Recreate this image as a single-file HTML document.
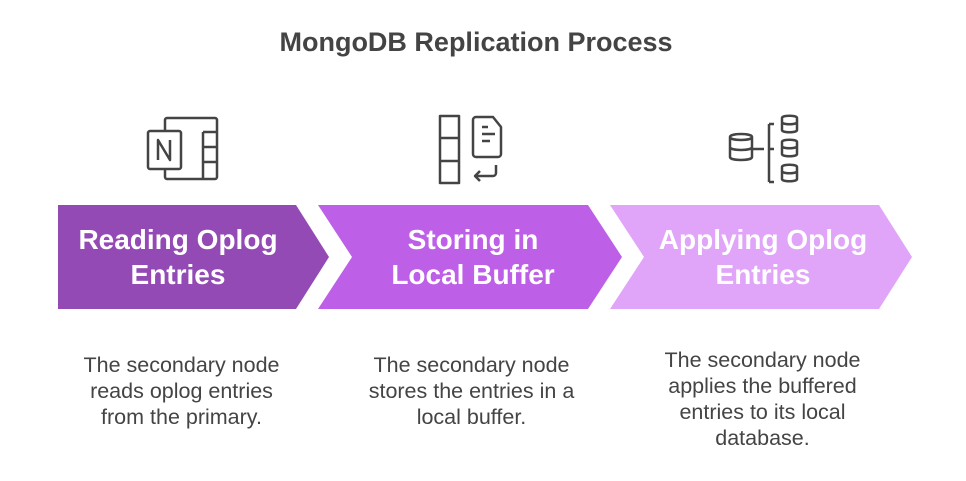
<!DOCTYPE html>
<html><head><style>
body{margin:0;width:966px;height:481px;background:#fff;font-family:"Liberation Sans",sans-serif;position:relative;overflow:hidden}
.t{position:absolute;left:0;width:952px;top:27px;text-align:center;font-weight:bold;font-size:27px;color:#444}
.lab{position:absolute;text-align:center;color:#fff;font-weight:bold;font-size:28px;line-height:35px;width:280px}
.d{position:absolute;text-align:center;color:#444;font-size:21.5px;line-height:26px;width:235px}
</style></head><body>
<div class="t">MongoDB Replication Process</div>
<svg width="966" height="481" style="position:absolute;left:0;top:0">
<polygon points="58,205 296,205 329,257 296,309 58,309" fill="#944AB5"/>
<polygon points="318,205 588,205 622,257 588,309 318,309 352,257" fill="#BE5FE8"/>
<polygon points="610,205 879,205 912,257 879,309 610,309 644,257" fill="#E0A4F8"/>
<g fill="none" stroke="#444" stroke-width="2.5" stroke-linejoin="round">
<rect x="165" y="118" width="52" height="61" rx="2"/>
<rect x="148" y="131" width="33" height="38" rx="2" fill="#fff"/>
<path d="M203 132v46M203 132h14M203 147h14M203 162h14"/>
<path d="M158 160v-20l12 20v-20"/>
<rect x="440" y="116" width="19" height="67"/>
<path d="M440 138h19M440 161h19"/>
<path d="M476 117h17l8 10v27a3 3 0 0 1-3 3h-22a3 3 0 0 1-3-3v-34a3 3 0 0 1 3-3z"/>
<path d="M482 127h6M482 134h13M482 141h8"/>
<path d="M496 165v8a3 3 0 0 1-3 3h-18M480 171l-5 5 5 5"/>
<path d="M730 137c0-4 22-4 22 0v20c0 4-22 4-22 0zM730 137c0 4 22 4 22 0M730 147c0 4 22 4 22 0"/>
<path d="M752 149h12M769 124v58M769 124h5M769 149h5M769 182h5"/>
<path d="M782 118c0-3 15-3 15 0v12c0 3-15 3-15 0zM782 122c0 3 15 3 15 0"/>
<path d="M782 142c0-3 15-3 15 0v12c0 3-15 3-15 0zM782 146c0 3 15 3 15 0"/>
<path d="M782 167c0-3 15-3 15 0v12c0 3-15 3-15 0zM782 171c0 3 15 3 15 0"/>
</g></svg>
<div class="lab" style="left:38px;top:222px">Reading Oplog<br>Entries</div>
<div class="lab" style="left:333px;top:222px">Storing in<br>Local Buffer</div>
<div class="lab" style="left:623px;top:222px">Applying Oplog<br>Entries</div>
<div class="d" style="left:74px;top:352px;width:215px">The secondary node reads oplog entries from the primary.</div>
<div class="d" style="left:354px;top:352px">The secondary node stores the entries in a local buffer.</div>
<div class="d" style="left:645px;top:347px">The secondary node applies the buffered entries to its local database.</div>
</body></html>
